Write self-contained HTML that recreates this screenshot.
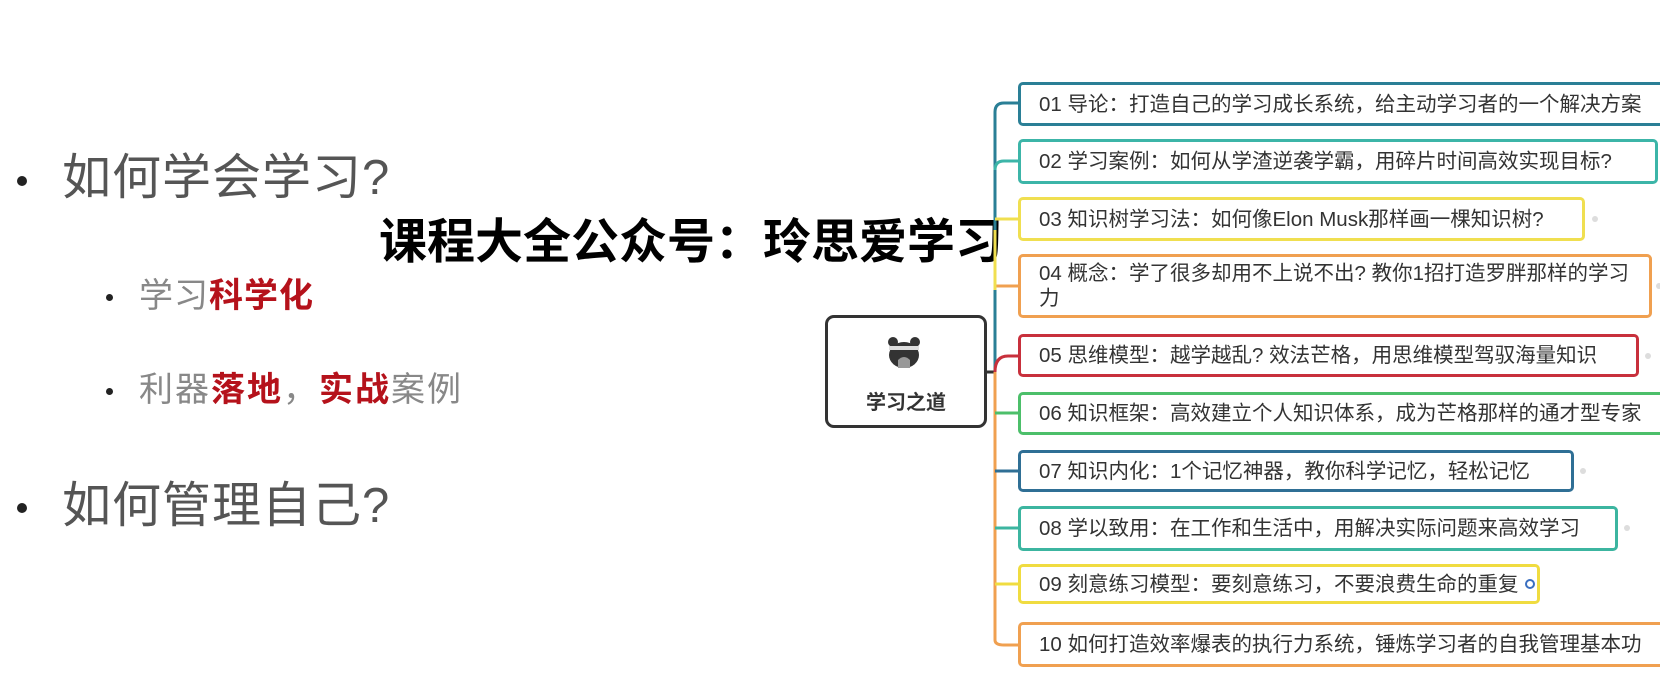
<!DOCTYPE html>
<html><head><meta charset="utf-8"><style>
body{margin:0;width:1660px;height:680px;background:#fff;position:relative;overflow:hidden;font-family:"Liberation Sans","Noto Sans CJK SC",sans-serif;}
.a{position:absolute;white-space:nowrap;}
.dot{position:absolute;border-radius:50%;background:#222;}
.box{position:absolute;border:3px solid;border-radius:5px;background:#fff;box-sizing:border-box;font-size:20.5px;color:#333;padding:0 0 0 18px;display:flex;align-items:center;white-space:nowrap;overflow:hidden;line-height:25px;}
.r{color:#b5121b;font-weight:bold;}
.sd{position:absolute;width:6px;height:6px;border-radius:50%;background:#ddd;}
</style></head><body>
<div class="dot" style="left:17px;top:176px;width:10px;height:10px"></div>
<div class="a" style="left:62px;top:149px;font-size:49px;color:#555;line-height:58px;letter-spacing:1px">如何学会学习?</div>
<div class="dot" style="left:106px;top:294px;width:7px;height:7px"></div>
<div class="a" style="left:139px;top:275px;font-size:34px;color:#888;line-height:42px;letter-spacing:1px">学习<span class="r">科学化</span></div>
<div class="dot" style="left:106px;top:388px;width:7px;height:7px"></div>
<div class="a" style="left:139px;top:369px;font-size:34px;color:#888;line-height:42px;letter-spacing:2px">利器<span class="r">落地</span>，<span class="r">实战</span>案例</div>
<div class="dot" style="left:17px;top:503px;width:10px;height:10px"></div>
<div class="a" style="left:62px;top:477px;font-size:49px;color:#555;line-height:58px;letter-spacing:1px">如何管理自己?</div>
<div class="a" style="left:379px;top:214px;font-size:48px;color:#000;line-height:58px;font-weight:bold;letter-spacing:0px">课程大全公众号：玲思爱学习</div>

<svg class="a" style="left:0;top:0" width="1660" height="680">
<g fill="none" stroke-width="3">
<path d="M987 372 H995" stroke="#333"/>
<path d="M995 372 V112 Q995 103 1004 103 H1020" stroke="#2a7f96"/>
<path d="M995 170 Q995 161 1004 161 H1020" stroke="#3cb5a8"/>
<path d="M995 219 H1020" stroke="#f0df50"/>
<path d="M995 286 H1020" stroke="#f0a050"/>
<path d="M995 372 Q995 356 1008 356 H1020" stroke="#c8303c"/>
<path d="M995 372 V640 Q995 645 1004 645 H1020" stroke="#f0a050"/>
<path d="M995 413 H1020" stroke="#4cbf6a"/>
<path d="M995 471 H1020" stroke="#2f6f95"/>
<path d="M995 528 H1020" stroke="#3cb5a0"/>
<path d="M995 584 H1020" stroke="#f0dc40"/>
<path d="M995 230 V290" stroke="#f0df50"/>
</g></svg>

<div style="position:absolute;left:825px;top:315px;width:162px;height:113px;border:3px solid #333;border-radius:9px;box-sizing:border-box;background:#fff"></div>
<svg class="a" style="left:887px;top:336px" width="34" height="34"><ellipse cx="17" cy="19" rx="15" ry="13" fill="#333"/><circle cx="6" cy="6" r="5" fill="#333"/><circle cx="28" cy="6" r="5" fill="#333"/><rect x="2" y="10" width="30" height="4" fill="#ddd"/><path d="M11 32 V24 Q17 18 23 24 V32Z" fill="#999"/></svg>
<div class="a" style="left:825px;width:162px;text-align:center;top:386px;font-size:20px;font-weight:bold;color:#333">学习之道</div>

<div class="box" style="left:1018px;top:82px;width:700px;height:44px;border-color:#2a7f96">01 导论：打造自己的学习成长系统，给主动学习者的一个解决方案</div>
<div class="box" style="left:1018px;top:139px;width:640px;height:45px;border-color:#3cb5a8">02 学习案例：如何从学渣逆袭学霸，用碎片时间高效实现目标?</div>
<div class="box" style="left:1018px;top:197px;width:567px;height:44px;border-color:#f0df50">03 知识树学习法：如何像Elon Musk那样画一棵知识树?</div>
<div class="sd" style="left:1592px;top:216px"></div>
<div class="box" style="left:1018px;top:254px;width:634px;height:64px;border-color:#f0a050;white-space:normal;padding-right:20px">04 概念：学了很多却用不上说不出? 教你1招打造罗胖那样的学习力</div>
<div class="sd" style="left:1656px;top:283px"></div>
<div class="box" style="left:1018px;top:334px;width:621px;height:43px;border-color:#c8303c">05 思维模型：越学越乱? 效法芒格，用思维模型驾驭海量知识</div>
<div class="sd" style="left:1645px;top:353px"></div>
<div class="box" style="left:1018px;top:392px;width:700px;height:43px;border-color:#4cbf6a">06 知识框架：高效建立个人知识体系，成为芒格那样的通才型专家</div>
<div class="box" style="left:1018px;top:450px;width:556px;height:42px;border-color:#2f6f95">07 知识内化：1个记忆神器，教你科学记忆，轻松记忆</div>
<div class="sd" style="left:1580px;top:468px"></div>
<div class="box" style="left:1018px;top:506px;width:600px;height:45px;border-color:#3cb5a0">08 学以致用：在工作和生活中，用解决实际问题来高效学习</div>
<div class="sd" style="left:1624px;top:525px"></div>
<div class="box" style="left:1018px;top:564px;width:522px;height:40px;border-color:#f0dc40">09 刻意练习模型：要刻意练习，不要浪费生命的重复 <span style="display:inline-block;width:6px;height:6px;border:2px solid #3a6fc0;border-radius:50%;margin-left:6px"></span></div>
<div class="box" style="left:1018px;top:622px;width:700px;height:45px;border-color:#f0a050">10 如何打造效率爆表的执行力系统，锤炼学习者的自我管理基本功</div>
</body></html>
